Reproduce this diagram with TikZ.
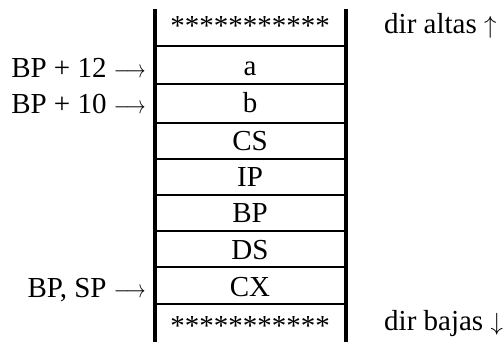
\documentclass[tikz,border=0pt]{standalone}
\usepackage{fontspec}
\usepackage{graphicx}
\setmainfont{Liberation Serif}
\newcommand{\rarrow}{\scalebox{0.8}[1]{$\longrightarrow$}}
\begin{document}
\begin{tikzpicture}[x=1bp,y=-1bp,
  txt/.style={inner sep=0pt, font=\fontsize{29bp}{33bp}\selectfont},
  cell/.style={txt, anchor=base},
  lab/.style={txt, anchor=base east},
  rlab/.style={txt, anchor=base west},
  wall/.style={line width=4bp},
  sep/.style={line width=2bp}]
\useasboundingbox (0,0) rectangle (504,342);
% walls
\draw[wall] (155.3,9) -- (155.3,342);
\draw[wall] (346,9) -- (346,342);
\foreach \y in {45.7,84,122.7,159,195,231,266.7,304.3}
  \draw[sep] (155.3,\y) -- (346,\y);
% cells
\node[cell] (top) at (250,35) {***********};
\node[cell] (a)   at (250,75) {a};
\node[cell] (b)   at (250,112) {b};
\node[cell] (cs)  at (250,150) {CS};
\node[cell] (ip)  at (250,186) {IP};
\node[cell] (bp)  at (250,222) {BP};
\node[cell] (ds)  at (250,259) {DS};
\node[cell] (cx)  at (250,296) {CX};
\node[cell] (bot) at (250,335) {***********};
% left labels
\node[lab] (l12) at (146,77) {BP + 12 \rarrow};
\node[lab] (l10) at (146,113) {BP + 10 \rarrow};
\node[lab] (lsp) at (146,297) {BP, SP \rarrow};
% right labels
\node[rlab] (alt) at (384,33) {dir altas $\uparrow$};
\node[rlab] (baj) at (384,330) {dir bajas $\downarrow$};
\end{tikzpicture}
\end{document}
